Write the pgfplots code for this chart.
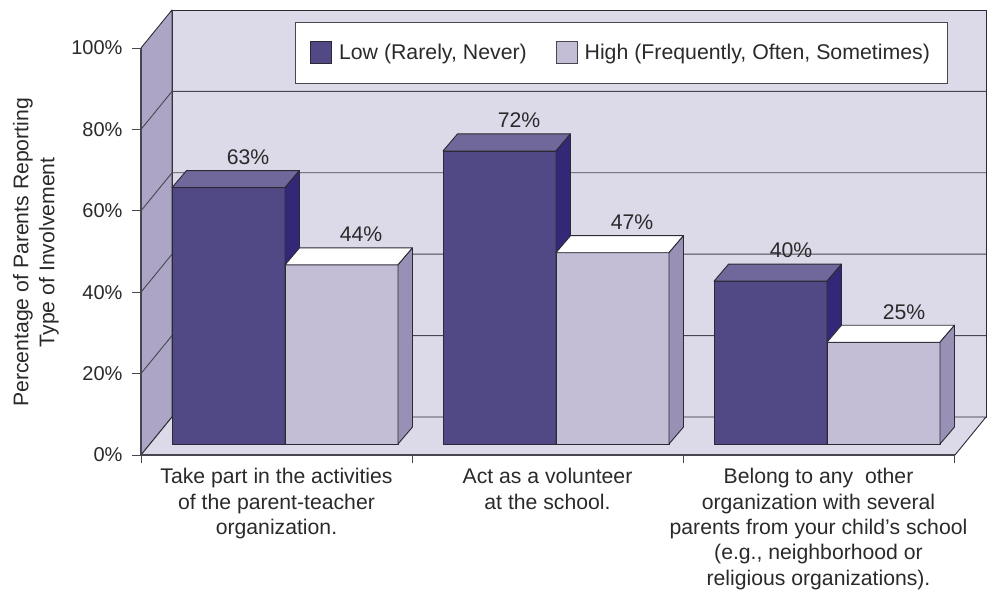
\documentclass[border=0pt]{standalone}
\usepackage{fontspec}
\setmainfont{Liberation Sans}
\usepackage{pgfplots}
\pgfplotsset{compat=1.18}
\definecolor{wall}{HTML}{DCDAE8}
\definecolor{sidewall}{HTML}{ADA5C6}
\definecolor{lowfront}{HTML}{514985}
\definecolor{lowtop}{HTML}{70679A}
\definecolor{lowside}{HTML}{332877}
\definecolor{highfront}{HTML}{C3BED5}
\definecolor{highside}{HTML}{9890B5}
\definecolor{edge}{HTML}{2B2A33}
\definecolor{inktext}{HTML}{2B2A2B}
\definecolor{gridc}{HTML}{47464E}

\pgfplotsset{
  face/.style={forget plot,draw=edge,line width=0.9pt,line join=round},
  gridl/.style={forget plot,draw=gridc,line width=0.9pt},
}
\begin{document}
\begin{tikzpicture}
\useasboundingbox (0,0) rectangle (989pt,592pt);
\begin{axis}[
  at={(141pt,137pt)},anchor=south west,
  scale only axis,width=814pt,height=407pt,
  xmin=141,xmax=955,ymin=0,ymax=100,
  clip=false,axis on top,
  axis x line=bottom,axis y line=left,
  axis line style={-,draw=gridc,line width=1.3pt},
  tick align=outside,
  major tick length=9pt,minor tick length=8pt,
  ytick={0,20,40,60,80,100},
  yticklabels={0\%,20\%,40\%,60\%,80\%,100\%},
  xtick={276.5,547.5,818.5},
  minor xtick={141,412,683,954},
  major x tick style={draw=none},
  minor x tick style={draw=gridc,line width=0.9pt},
  major y tick style={draw=gridc,line width=0.9pt},
  xticklabels={
    {Take part in the activities\\of the parent-teacher\\organization.},
    {Act as a volunteer\\at the school.},
    {Belong to any\ \ other\\organization with several\\parents from your child’s school\\(e.g., neighborhood or\\religious organizations).}},
  xticklabel style={align=center,font=\fontsize{21.2}{25.3}\selectfont,text=inktext,yshift=-1pt},
  yticklabel style={font=\fontsize{20}{24}\selectfont,text=inktext,xshift=-6pt},
  ylabel={Percentage of Parents Reporting\\Type of Involvement},
  ylabel style={at={(axis description cs:-0.129,0.498)},anchor=center,align=center,
    font=\fontsize{21.2}{26}\selectfont,text=inktext},
  legend columns=2,
  legend cell align=left,
  legend style={at={(axis description cs:0.189,1.064)},anchor=north west,
    draw=gridc,line width=0.8pt,fill=white,inner xsep=15pt,inner ysep=19pt,
    font=\fontsize{21.3}{24}\selectfont,text=inktext,
    /tikz/every even column/.append style={column sep=27pt},
    /tikz/every odd column/.append style={column sep=5pt}},
  legend image code/.code={\draw[#1] (0pt,-11pt) rectangle (21pt,11pt);},
]
% walls and floor
\addplot[face,fill=wall] coordinates {(172,9.34)(986,9.34)(986,109.34)(172,109.34)} --cycle;
\addplot[face,fill=sidewall] coordinates {(141,0)(172,9.34)(172,109.34)(141,100)} --cycle;
\addplot[face,fill=wall] coordinates {(141,0)(172,9.34)(986,9.34)(955,0)} --cycle;
% gridlines
\addplot[gridl] coordinates {(141,20)(172,29.34)(986,29.34)};
\addplot[gridl] coordinates {(141,40)(172,49.34)(986,49.34)};
\addplot[gridl] coordinates {(141,60)(172,69.34)(986,69.34)};
\addplot[gridl] coordinates {(141,80)(172,89.34)(986,89.34)};
% group 1
\addplot[face,fill=lowfront,yshift=11pt] coordinates {(172,0)(285,0)(285,63)(172,63)} --cycle;
\addplot[face,fill=lowtop,yshift=11pt] coordinates {(172,63)(186.5,67.18)(299.5,67.18)(285,63)} --cycle;
\addplot[face,fill=lowside,yshift=11pt] coordinates {(285,0)(299.5,4.18)(299.5,67.18)(285,63)} --cycle;
\addplot[face,fill=highfront,yshift=11pt] coordinates {(285,0)(398,0)(398,44)(285,44)} --cycle;
\addplot[face,fill=white,yshift=11pt] coordinates {(285,44)(299.5,48.18)(412.5,48.18)(398,44)} --cycle;
\addplot[face,fill=highside,yshift=11pt] coordinates {(398,0)(412.5,4.18)(412.5,48.18)(398,44)} --cycle;
% group 2
\addplot[face,fill=lowfront,yshift=11pt] coordinates {(443,0)(556,0)(556,72)(443,72)} --cycle;
\addplot[face,fill=lowtop,yshift=11pt] coordinates {(443,72)(457.5,76.18)(570.5,76.18)(556,72)} --cycle;
\addplot[face,fill=lowside,yshift=11pt] coordinates {(556,0)(570.5,4.18)(570.5,76.18)(556,72)} --cycle;
\addplot[face,fill=highfront,yshift=11pt] coordinates {(556,0)(669,0)(669,47)(556,47)} --cycle;
\addplot[face,fill=white,yshift=11pt] coordinates {(556,47)(570.5,51.18)(683.5,51.18)(669,47)} --cycle;
\addplot[face,fill=highside,yshift=11pt] coordinates {(669,0)(683.5,4.18)(683.5,51.18)(669,47)} --cycle;
% group 3
\addplot[face,fill=lowfront,yshift=11pt] coordinates {(714,0)(827,0)(827,40)(714,40)} --cycle;
\addplot[face,fill=lowtop,yshift=11pt] coordinates {(714,40)(728.5,44.18)(841.5,44.18)(827,40)} --cycle;
\addplot[face,fill=lowside,yshift=11pt] coordinates {(827,0)(841.5,4.18)(841.5,44.18)(827,40)} --cycle;
\addplot[face,fill=highfront,yshift=11pt] coordinates {(827,0)(940,0)(940,25)(827,25)} --cycle;
\addplot[face,fill=white,yshift=11pt] coordinates {(827,25)(841.5,29.18)(954.5,29.18)(940,25)} --cycle;
\addplot[face,fill=highside,yshift=11pt] coordinates {(940,0)(954.5,4.18)(954.5,29.18)(940,25)} --cycle;
% value labels
\begin{scope}[every node/.style={font=\fontsize{21.2}{24}\selectfont,text=inktext}]
\node at (axis cs:248,73.2) {63\%};
\node at (axis cs:361,54.3) {44\%};
\node at (axis cs:519,82.3) {72\%};
\node at (axis cs:632,57.2) {47\%};
\node at (axis cs:791,50.4) {40\%};
\node at (axis cs:904,35.1) {25\%};
\end{scope}
% legend
\addlegendimage{draw=edge,fill=lowfront,line width=0.8pt}
\addlegendentry{Low (Rarely, Never)}
\addlegendimage{draw=gridc,fill=highfront,line width=0.8pt}
\addlegendentry{High (Frequently, Often, Sometimes)}
\end{axis}
\end{tikzpicture}
\end{document}
